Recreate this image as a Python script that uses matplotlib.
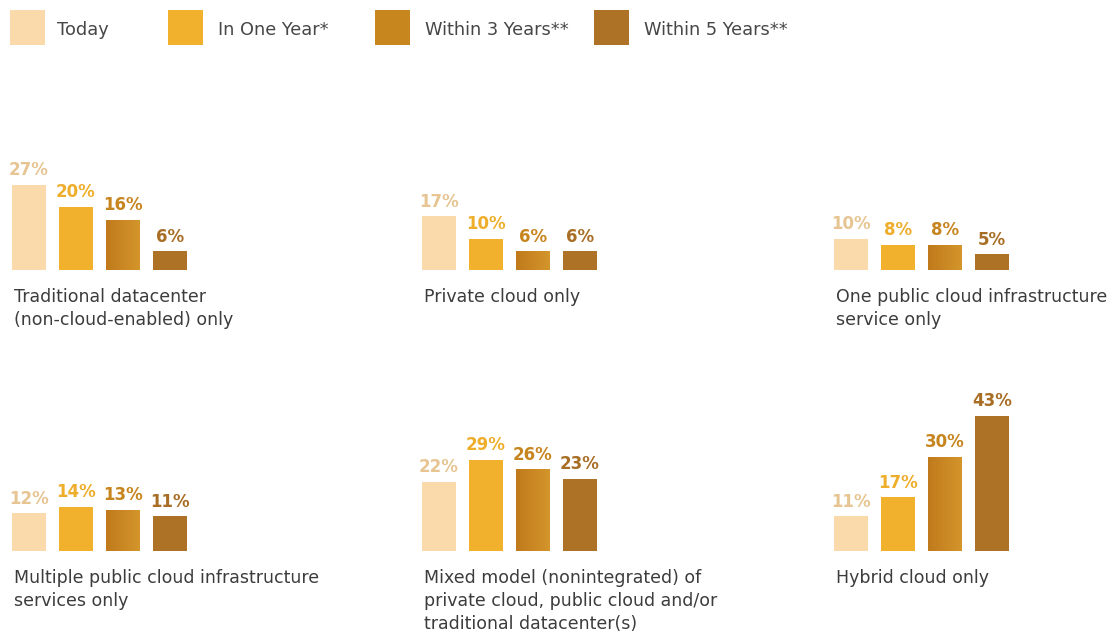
#!/usr/bin/env python3
"""Small-multiple bar chart: deployment model today vs. in 1, 3 and 5 years."""

import matplotlib

matplotlib.use("Agg")

import matplotlib.pyplot as plt
import numpy as np
from matplotlib.colors import LinearSegmentedColormap
from matplotlib.patches import Rectangle


periods = ["Today", "In One Year*", "Within 3 Years**", "Within 5 Years**"]
categories = [
    "Traditional datacenter\n(non-cloud-enabled) only",
    "Private cloud only",
    "One public cloud infrastructure\nservice only",
    "Multiple public cloud infrastructure\nservices only",
    "Mixed model (nonintegrated) of\nprivate cloud, public cloud and/or\ntraditional datacenter(s)",
    "Hybrid cloud only",
]
today = [27, 17, 10, 12, 22, 11]
one_year = [20, 10, 8, 14, 29, 17]
three_years = [16, 6, 8, 13, 26, 30]
five_years = [6, 6, 5, 11, 23, 43]

BAR_COLORS = ["#FAD9AA", "#F1B12D", "#C8861F", "#AD7226"]
LABEL_COLORS = ["#E6C592", "#EEAE2C", "#C7851F", "#A86E25"]
GRAD_3Y = ["#C07A1C", "#D4952B"]
TEXT_COLOR = "#3C3C3C"

W, H = 1114, 633
COL_LEFT = [12, 422, 834]
ROW_BASE = [270, 551]
STEP_PX, BAR_PX = 47, 34
PX_PER_PCT = 3.15
AX_H_PX = 160


def main() -> None:
    plt.rcParams["font.family"] = ["DejaVu Sans"]
    fig = plt.figure(figsize=(W / 100, H / 100), dpi=100)
    fig.patch.set_facecolor("white")

    series = np.array([today, one_year, three_years, five_years])
    width = BAR_PX / STEP_PX
    ax_w_px = 3 * STEP_PX + BAR_PX
    grad_cmap = LinearSegmentedColormap.from_list("grad3", GRAD_3Y)
    gradient = np.linspace(0, 1, 64).reshape(1, -1)

    for i, cat in enumerate(categories):
        row, col = divmod(i, 3)
        left = COL_LEFT[col]
        base = ROW_BASE[row]
        ax = fig.add_axes([left / W, (H - base) / H, ax_w_px / W, AX_H_PX / H])
        ax.set_axis_off()

        values = series[:, i]
        xs = np.arange(len(periods))
        bars = ax.bar(xs, values, width=width, color=BAR_COLORS, linewidth=0)

        # soft left-to-right shading on the 3-year bar
        b = bars[2]
        im = ax.imshow(
            gradient,
            cmap=grad_cmap,
            aspect="auto",
            extent=(b.get_x(), b.get_x() + b.get_width(), 0, b.get_height()),
            zorder=b.get_zorder() + 0.1,
        )
        im.set_clip_path(b)

        ax.set_xlim(-width / 2, 3 + width / 2)
        ax.set_ylim(0, AX_H_PX / PX_PER_PCT)

        for x, v, c in zip(xs, values, LABEL_COLORS):
            ax.annotate(
                f"{v}%",
                xy=(x, v),
                xytext=(0, 4),
                textcoords="offset points",
                ha="center",
                va="bottom",
                fontsize=12,
                fontweight="bold",
                color=c,
            )

        ax.annotate(
            cat,
            xy=(0, 0),
            xycoords="axes fraction",
            xytext=(1.5, -13),
            textcoords="offset points",
            ha="left",
            va="top",
            fontsize=12.5,
            linespacing=1.37,
            color=TEXT_COLOR,
            annotation_clip=False,
        )

    # legend row across the top
    legend_patch_x = [10, 168, 375, 594]
    legend_text_x = [57, 218, 425, 644]
    for j, label in enumerate(periods):
        px = legend_patch_x[j]
        fig.add_artist(
            Rectangle(
                (px / W, 1 - 45 / H),
                35 / W,
                35 / H,
                transform=fig.transFigure,
                facecolor=BAR_COLORS[j],
                edgecolor="none",
            )
        )
        fig.text(
            legend_text_x[j] / W,
            1 - 30 / H,
            label,
            ha="left",
            va="center",
            fontsize=12.8,
            color="#474747",
        )

    fig.savefig("out.png", dpi=100, facecolor="white")
    plt.close(fig)


if __name__ == "__main__":
    main()
